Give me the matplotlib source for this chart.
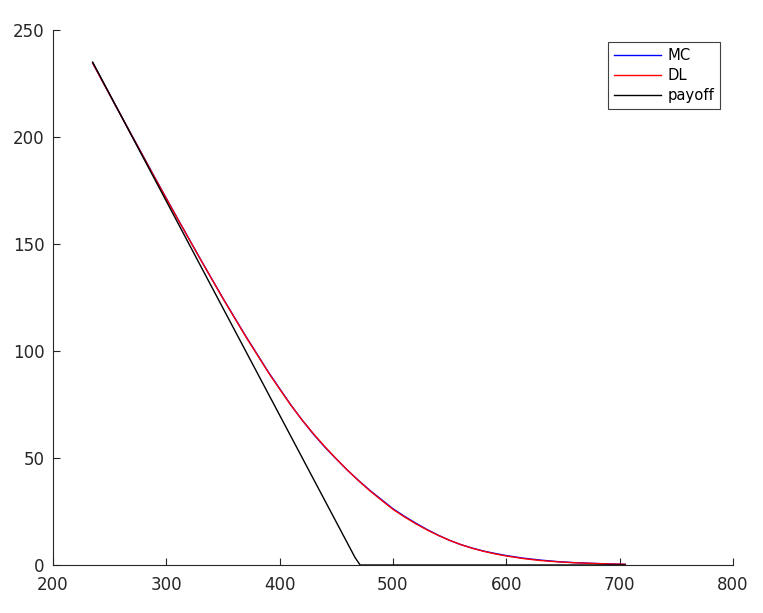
import matplotlib
matplotlib.use("Agg")
import matplotlib.pyplot as plt

# Underlying price grid
S = [235, 250, 270, 290, 310, 330, 350, 370, 390, 400, 410, 420, 430, 440,
     450, 460, 470, 480, 490, 500, 510, 520, 530, 540, 550, 560, 570, 580,
     590, 600, 615, 630, 645, 660, 675, 690, 705]
# Deep-learning price estimate
DL = [234.5, 219.8, 200.2, 180.8, 161.7, 142.9, 124.5, 106.8, 90.0, 82.2,
      74.6, 67.6, 61.2, 55.2, 49.6, 44.2, 39.2, 34.5, 30.2, 26.0, 22.5,
      19.3, 16.4, 13.8, 11.5, 9.5, 7.8, 6.4, 5.2, 4.2, 3.0, 2.1, 1.5,
      1.05, 0.75, 0.5, 0.3]
# Monte Carlo price estimate
MC = [234.6, 219.8, 200.3, 180.9, 161.8, 143.0, 124.6, 107.0, 90.2, 82.4,
      74.7, 67.6, 61.0, 55.0, 49.5, 44.2, 39.3, 34.7, 30.5, 26.3, 22.8,
      19.6, 16.6, 13.9, 11.5, 9.5, 7.9, 6.5, 5.4, 4.4, 3.2, 2.3, 1.6,
      1.1, 0.8, 0.5, 0.3]
# Payoff polyline
payoff_S = [235, 466.5, 471, 705]
payoff_V = [235, 3.5, 0, 0]

fig = plt.figure(figsize=(7.63, 6.13), dpi=100)
ax = fig.add_axes([53/763, 48/613, 680/763, 535/613])

ax.plot(S, MC, color=(0, 0, 1), lw=1.0, label="MC")
ax.plot(S, DL, color=(1, 0, 0), lw=1.0, label="DL")
ax.plot(payoff_S, payoff_V, color="black", lw=1.0, label="payoff")

ax.set_xlim(200, 800)
ax.set_ylim(0, 250)
ax.set_xticks([200, 300, 400, 500, 600, 700, 800])
ax.set_yticks([0, 50, 100, 150, 200, 250])

for side in ("top", "right"):
    ax.spines[side].set_visible(False)
for side in ("left", "bottom"):
    ax.spines[side].set_color("#262626")
    ax.spines[side].set_linewidth(0.8)

ax.tick_params(direction="in", length=5, width=0.8, colors="#262626",
               labelsize=12, labelcolor="#262626")
ax.tick_params(axis="x", pad=8)
ax.tick_params(axis="y", pad=6)

leg = ax.legend(loc="upper right", bbox_to_anchor=(0.981, 0.978),
                borderaxespad=0, fontsize=10.6, fancybox=False, framealpha=1,
                edgecolor="#404040", handlelength=3.2, handletextpad=0.45,
                labelspacing=0.34, borderpad=0.4)
leg.get_frame().set_linewidth(0.8)

fig.savefig("out.png", dpi=100)
